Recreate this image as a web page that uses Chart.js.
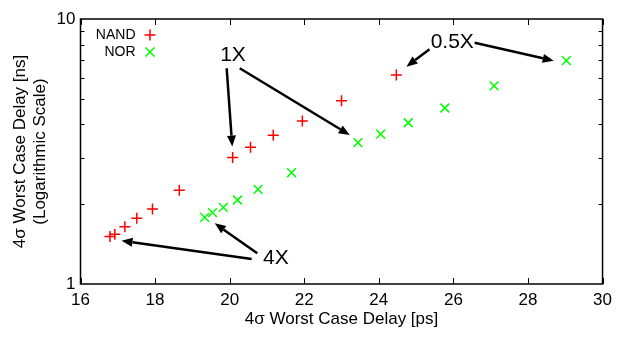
<!DOCTYPE html>
<html>
<head>
<meta charset="utf-8">
<script src="https://cdn.jsdelivr.net/npm/chart.js@4.4.0/dist/chart.umd.min.js"></script>
<style>
html, body { margin: 0; padding: 0; background: #fff; }
</style>
</head>
<body>
<canvas id="myChart" width="618" height="337"></canvas>
<script>
// values
const nandDelayPs = [16.79, 16.92, 17.19, 17.51, 17.93, 18.65, 20.08, 20.56, 21.17, 21.95, 23.0, 24.47];
const nandDelayNs = [1.51, 1.54, 1.645, 1.77, 1.92, 2.26, 3.0, 3.28, 3.64, 4.12, 4.91, 6.15];
const norDelayPs = [19.33, 19.54, 19.83, 20.21, 20.76, 21.66, 23.44, 24.05, 24.79, 25.77, 27.09, 29.03];
const norDelayNs = [1.785, 1.858, 1.947, 2.075, 2.277, 2.63, 3.415, 3.675, 4.06, 4.615, 5.59, 6.96];
const xTicks = [16, 18, 20, 22, 24, 26, 28, 30];
const yTicks = [1, 10];
const yMinorTicks = [2, 3, 4, 5, 6, 7, 8, 9];

// labels with arrows (x1, y1 -> x2, y2 in data units)
const notes = [
  { text: "1X", x: 20.09, y: 7.31, arrows: [[19.92, 6.52, 20.07, 3.30], [20.27, 6.52, 23.22, 3.65]] },
  { text: "0.5X", x: 25.97, y: 8.14, arrows: [[25.36, 7.69, 24.74, 6.61], [26.57, 8.14, 28.69, 6.96]] },
  { text: "4X", x: 21.24, y: 1.25, arrows: [[20.74, 1.306, 19.6, 1.694], [20.59, 1.243, 17.10, 1.457]] }
];

const FONT = '"Liberation Sans", Arial, sans-serif';

function toPoints(xs, ys) {
  return xs.map(function (x, i) { return { x: x, y: ys[i] }; });
}

function drawArrow(ctx, x1, y1, x2, y2) {
  const ang = Math.atan2(y2 - y1, x2 - x1);
  const head = 11, half = 4.5;
  const bx = x2 - head * Math.cos(ang), by = y2 - head * Math.sin(ang);
  ctx.beginPath();
  ctx.moveTo(x1, y1);
  ctx.lineTo(bx, by);
  ctx.stroke();
  ctx.beginPath();
  ctx.moveTo(x2, y2);
  ctx.lineTo(bx + half * Math.sin(ang), by - half * Math.cos(ang));
  ctx.lineTo(bx - half * Math.sin(ang), by + half * Math.cos(ang));
  ctx.closePath();
  ctx.fill();
}

// frame, inward ticks, legend and notes
const extras = {
  id: "extras",
  afterDatasetsDraw(chart) {
    const ctx = chart.ctx;
    const a = chart.chartArea;
    const xs = chart.scales.x, ys = chart.scales.y;
    ctx.save();
    ctx.strokeStyle = "#000";
    ctx.lineWidth = 1.5;
    ctx.strokeRect(a.left, a.top, a.right - a.left, a.bottom - a.top);

    ctx.lineWidth = 1;
    ctx.beginPath();
    xTicks.forEach(function (v) {
      const px = Math.round(xs.getPixelForValue(v)) + 0.5;
      ctx.moveTo(px, a.bottom); ctx.lineTo(px, a.bottom - 6);
      ctx.moveTo(px, a.top); ctx.lineTo(px, a.top + 6);
    });
    yMinorTicks.forEach(function (v) {
      const py = Math.round(ys.getPixelForValue(v)) + 0.5;
      ctx.moveTo(a.left, py); ctx.lineTo(a.left + 4, py);
      ctx.moveTo(a.right, py); ctx.lineTo(a.right - 4, py);
    });
    ctx.stroke();

    // legend
    ctx.font = "14px " + FONT;
    ctx.fillStyle = "#000";
    ctx.textAlign = "right";
    ctx.textBaseline = "middle";
    ctx.fillText("NAND", a.left + 55, a.top + 16);
    ctx.fillText("NOR", a.left + 55, a.top + 33);
    ctx.lineWidth = 1.5;
    ctx.strokeStyle = "#ff0000";
    ctx.beginPath();
    ctx.moveTo(a.left + 64, a.top + 16); ctx.lineTo(a.left + 75, a.top + 16);
    ctx.moveTo(a.left + 69.5, a.top + 10.5); ctx.lineTo(a.left + 69.5, a.top + 21.5);
    ctx.stroke();
    ctx.strokeStyle = "#00ff00";
    ctx.beginPath();
    ctx.moveTo(a.left + 65, a.top + 28.5); ctx.lineTo(a.left + 74, a.top + 37.5);
    ctx.moveTo(a.left + 74, a.top + 28.5); ctx.lineTo(a.left + 65, a.top + 37.5);
    ctx.stroke();

    // notes
    ctx.fillStyle = "#000";
    ctx.strokeStyle = "#000";
    ctx.lineWidth = 2.5;
    ctx.font = "21px " + FONT;
    ctx.textAlign = "center";
    notes.forEach(function (n) {
      ctx.fillText(n.text, xs.getPixelForValue(n.x), ys.getPixelForValue(n.y));
      n.arrows.forEach(function (r) {
        drawArrow(ctx, xs.getPixelForValue(r[0]), ys.getPixelForValue(r[1]),
          xs.getPixelForValue(r[2]), ys.getPixelForValue(r[3]));
      });
    });
    ctx.restore();
  }
};

const myChart = document.getElementById("myChart").getContext("2d");
let scatterChart = new Chart(myChart, {
  type: "scatter",
  data: {
    datasets: [
      {
        label: "NAND",
        data: toPoints(nandDelayPs, nandDelayNs),
        pointStyle: "cross",
        pointRadius: 5.5,
        borderColor: "#ff0000",
        backgroundColor: "#ff0000",
        borderWidth: 1.5
      },
      {
        label: "NOR",
        data: toPoints(norDelayPs, norDelayNs),
        pointStyle: "crossRot",
        pointRadius: 6.2,
        borderColor: "#00ff00",
        backgroundColor: "#00ff00",
        borderWidth: 1.5
      }
    ]
  },
  options: {
    responsive: false,
    animation: false,
    layout: { padding: { left: 0, right: 15, top: 19, bottom: 0 } },
    plugins: { legend: { display: false }, tooltip: { enabled: false } },
    scales: {
      x: {
        type: "linear",
        min: 16,
        max: 30,
        afterBuildTicks: function (s) { s.ticks = xTicks.map(function (v) { return { value: v }; }); },
        afterFit: function (s) { s.height = 53; },
        grid: { display: false, drawTicks: false },
        border: { display: false },
        ticks: { color: "#000", padding: 6, maxRotation: 0, font: { family: FONT, size: 17 } },
        title: {
          display: true,
          text: "4σ Worst Case Delay [ps]",
          color: "#000",
          padding: { top: 0, bottom: 7 },
          font: { family: FONT, size: 17 }
        }
      },
      y: {
        type: "logarithmic",
        min: 1,
        max: 10,
        afterBuildTicks: function (s) { s.ticks = yTicks.map(function (v) { return { value: v }; }); },
        afterFit: function (s) { s.width = 80.5; },
        grid: { display: false, drawTicks: false },
        border: { display: false },
        ticks: {
          color: "#000",
          padding: 5,
          font: { family: FONT, size: 17 },
          callback: function (v) { return String(v); }
        },
        title: {
          display: true,
          text: ["4σ Worst Case Delay [ns]", "(Logarithmic Scale)"],
          color: "#000",
          padding: { top: 10, bottom: 0 },
          font: { family: FONT, size: 17 }
        }
      }
    }
  },
  plugins: [extras]
});
</script>
</body>
</html>
